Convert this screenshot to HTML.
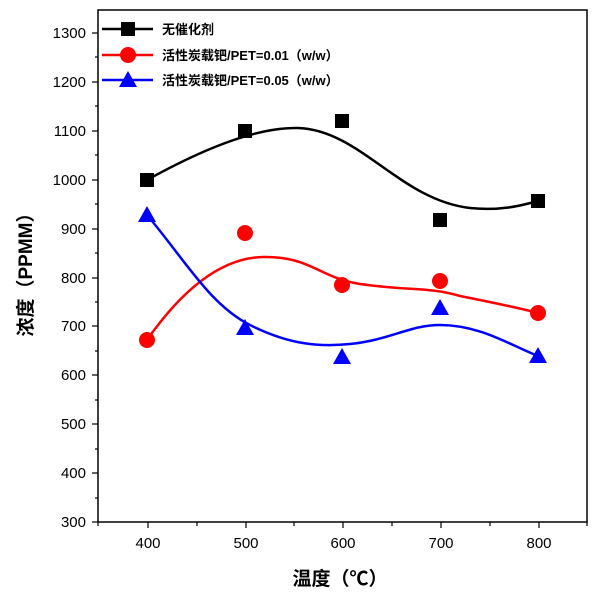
<!DOCTYPE html>
<html><head><meta charset="utf-8"><style>body{margin:0;background:#fff}</style></head><body>
<svg width="600" height="599" xmlns="http://www.w3.org/2000/svg" font-family="Liberation Sans, Noto Sans CJK SC, sans-serif">
<rect x="98" y="10" width="489" height="512" fill="none" stroke="#000" stroke-width="1.5"/>
<g stroke="#000" stroke-width="1.2">
<line x1="92" y1="33" x2="98" y2="33"/><line x1="92" y1="82" x2="98" y2="82"/><line x1="92" y1="131" x2="98" y2="131"/><line x1="92" y1="180" x2="98" y2="180"/><line x1="92" y1="229" x2="98" y2="229"/><line x1="92" y1="278" x2="98" y2="278"/><line x1="92" y1="326" x2="98" y2="326"/><line x1="92" y1="375" x2="98" y2="375"/><line x1="92" y1="424" x2="98" y2="424"/><line x1="92" y1="473" x2="98" y2="473"/><line x1="92" y1="522" x2="98" y2="522"/>
<line x1="95" y1="57" x2="98" y2="57"/><line x1="95" y1="106" x2="98" y2="106"/><line x1="95" y1="155" x2="98" y2="155"/><line x1="95" y1="204" x2="98" y2="204"/><line x1="95" y1="253" x2="98" y2="253"/><line x1="95" y1="302" x2="98" y2="302"/><line x1="95" y1="351" x2="98" y2="351"/><line x1="95" y1="400" x2="98" y2="400"/><line x1="95" y1="449" x2="98" y2="449"/><line x1="95" y1="498" x2="98" y2="498"/>
<line x1="148" y1="522" x2="148" y2="528"/><line x1="246" y1="522" x2="246" y2="528"/><line x1="343" y1="522" x2="343" y2="528"/><line x1="441" y1="522" x2="441" y2="528"/><line x1="539" y1="522" x2="539" y2="528"/>
<line x1="98" y1="522" x2="98" y2="526"/><line x1="197" y1="522" x2="197" y2="526"/><line x1="294" y1="522" x2="294" y2="526"/><line x1="392" y1="522" x2="392" y2="526"/><line x1="490" y1="522" x2="490" y2="526"/><line x1="587" y1="522" x2="587" y2="526"/>
</g>
<g font-size="15" text-anchor="end" fill="#000">
<text x="86" y="38">1300</text><text x="86" y="87">1200</text><text x="86" y="136">1100</text><text x="86" y="185">1000</text><text x="86" y="234">900</text><text x="86" y="283">800</text><text x="86" y="331">700</text><text x="86" y="380">600</text><text x="86" y="429">500</text><text x="86" y="478">400</text><text x="86" y="527">300</text>
</g>
<g font-size="15" text-anchor="middle"><text x="148" y="548">400</text><text x="246" y="548">500</text><text x="343" y="548">600</text><text x="441" y="548">700</text><text x="539" y="548">800</text></g>
<text x="340" y="585" font-size="19" font-weight="bold" text-anchor="middle">温度（℃）</text>
<text transform="translate(32,270) rotate(-90)" font-size="19" font-weight="bold" text-anchor="middle">浓度（PPMM）</text>
<g fill="none" stroke-width="2.5">
<path d="M147,180 C210,145 260,127 298,128 C360,130 400,200 470,208 C500,211 520,206 538,201" stroke="#000"/>
<path d="M147,340 C175,300 215,258 263,257 C310,256 320,278 360,284 C410,291 430,287 460,296 C495,303 520,308 538,313" stroke="#f00"/>
<path d="M147,215 C185,260 210,305 250,325 C290,345 320,347 350,344 C390,340 410,325 440,325 C480,325 510,345 538,356" stroke="#00f"/>
</g>
<g fill="#000"><rect x="140" y="173" width="14" height="14"/><rect x="238" y="124" width="14" height="14"/><rect x="335" y="114" width="14" height="14"/><rect x="433" y="213" width="14" height="14"/><rect x="531" y="194" width="14" height="14"/></g>
<g fill="#f00"><circle cx="147" cy="340" r="8"/><circle cx="245" cy="233" r="8"/><circle cx="342" cy="285" r="8"/><circle cx="440" cy="281" r="8"/><circle cx="538" cy="313" r="8"/></g>
<g fill="#00f"><polygon points="147,206 138,222 156,222"/><polygon points="245,319 236,335 254,335"/><polygon points="342,348 333,364 351,364"/><polygon points="440,299 431,315 449,315"/><polygon points="538,347 529,363 547,363"/></g>
<g stroke-width="2.5"><line x1="102" y1="29" x2="153" y2="29" stroke="#000"/><line x1="102" y1="55" x2="153" y2="55" stroke="#f00"/><line x1="102" y1="80" x2="153" y2="80" stroke="#00f"/></g>
<rect x="121" y="22" width="14" height="14"/><circle cx="128" cy="55" r="8" fill="#f00"/><polygon points="128,71 119,87 137,87" fill="#00f"/>
<g font-size="13" font-weight="bold"><text x="162" y="34">无催化剂</text><text x="162" y="60">活性炭载钯/PET=0.01（w/w）</text><text x="162" y="85">活性炭载钯/PET=0.05（w/w）</text></g>
</svg>
</body></html>
